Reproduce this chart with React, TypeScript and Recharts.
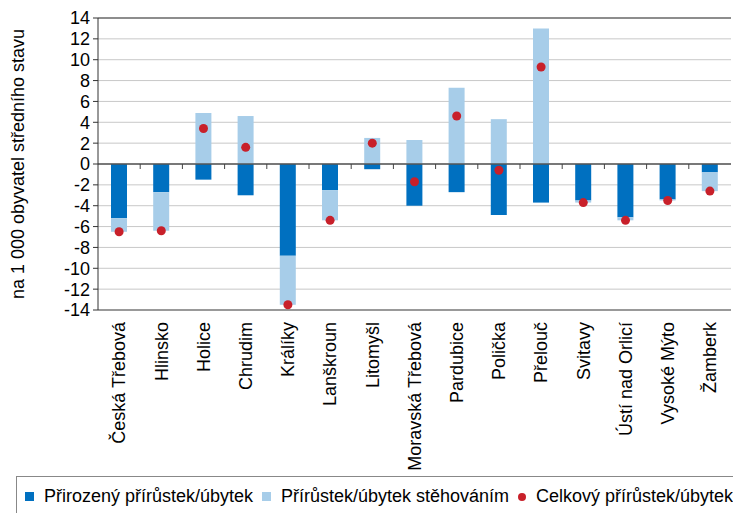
import React from 'react';
import { ComposedChart, Bar, Line, XAxis, YAxis, CartesianGrid, ReferenceLine } from 'recharts';

const towns = [
    'Česká Třebová', 'Hlinsko', 'Holice', 'Chrudim', 'Králíky', 'Lanškroun', 'Litomyšl',
    'Moravská Třebová', 'Pardubice', 'Polička', 'Přelouč', 'Svitavy', 'Ústí nad Orlicí',
    'Vysoké Mýto', 'Žamberk',
];
const natural = [-5.2, -2.7, -1.5, -3.0, -8.8, -2.5, -0.5, -4.0, -2.7, -4.9, -3.7, -3.5, -5.1, -3.4, -0.8];
const migration = [-1.3, -3.7, 4.9, 4.6, -4.7, -2.9, 2.5, 2.3, 7.3, 4.3, 13.0, -0.2, -0.3, -0.1, -1.8];
const total = [-6.5, -6.4, 3.4, 1.6, -13.5, -5.4, 2.0, -1.7, 4.6, -0.6, 9.3, -3.7, -5.4, -3.5, -2.6];
const yTicks = [14, 12, 10, 8, 6, 4, 2, 0, -2, -4, -6, -8, -10, -12, -14];

const data = towns.map((name, i) => ({
    name,
    natural: natural[i],
    migration: migration[i],
    total: total[i],
}));

const FONT = '"Liberation Sans", Arial, sans-serif';
const FS = 18;
const DARK = '#0070c0';
const LIGHT = '#a7cde9';
const RED = '#c8202a';

const TownTick = (props: any) => {
    const { x, payload } = props;
    const y = 322;
    return (
        <text x={x} y={y} transform={`rotate(-90, ${x}, ${y})`} textAnchor="end" dy="0.35em"
            fontSize={FS} fontFamily={FONT} fill="#000">
            {payload.value}
        </text>
    );
};

// zero line with the small category ticks Excel draws on it
const ZeroLine = (props: any) => {
    const { x1, y1, x2 } = props;
    const step = (x2 - x1) / towns.length;
    return (
        <g>
            <line x1={x1} y1={y1} x2={x2} y2={y1} stroke="#555" strokeWidth={1.5} />
            {towns.slice(1).map((_, i) => (
                <line key={i} x1={x1 + step * (i + 1)} y1={y1} x2={x1 + step * (i + 1)} y2={y1 + 5} stroke="#444" />
            ))}
        </g>
    );
};

const AxisTitle = (props: any) => {
    const vb = props.viewBox;
    const cx = vb.x + 18;
    const cy = vb.y + vb.height / 2;
    return (
        <text x={cx} y={cy} transform={`rotate(-90, ${cx}, ${cy})`} textAnchor="middle" dy="0.35em"
            fontSize={FS} fontFamily={FONT} fill="#000">
            na 1 000 obyvatel středního stavu
        </text>
    );
};

const legendText: React.CSSProperties = { position: 'absolute', top: 486, fontSize: FS, fontFamily: FONT, color: '#000', whiteSpace: 'nowrap' };

const App: React.FC = () => {
    return (
        <div style={{ position: 'fixed', left: 0, top: 0, width: 733, height: 513, overflow: 'hidden', background: '#fff' }}>
            <ComposedChart width={733} height={513} data={data} stackOffset="sign"
                margin={{ top: 18, right: 2, left: 0, bottom: 0 }}>
                <CartesianGrid vertical={false} stroke="#c8c8c8" />
                <XAxis dataKey="name" interval={0} tickLine={false} height={203}
                    axisLine={{ stroke: '#808080', strokeWidth: 1.5 }} tick={<TownTick />} />
                <YAxis domain={[-14, 14]} ticks={yTicks} interval={0} width={98} tickSize={5} tickMargin={3}
                    axisLine={{ stroke: '#333' }} tickLine={{ stroke: '#333' }}
                    tick={{ fontSize: FS, fontFamily: FONT, fill: '#000' }}
                    label={{ content: <AxisTitle /> }} />
                <YAxis yAxisId="frame" orientation="right" domain={[-14, 14]} width={0} tick={false} tickLine={false}
                    axisLine={{ stroke: '#707070', strokeWidth: 1.5 }} />
                <ReferenceLine y={14} stroke="#707070" strokeWidth={1.5} />
                <Bar dataKey="natural" stackId="a" fill={DARK} barSize={16} isAnimationActive={false} />
                <Bar dataKey="migration" stackId="a" fill={LIGHT} barSize={16} isAnimationActive={false} />
                <ReferenceLine y={0} shape={<ZeroLine />} />
                <Line dataKey="total" stroke="none" activeDot={false} isAnimationActive={false}
                    dot={{ r: 4.5, fill: RED, stroke: 'none' }} />
            </ComposedChart>
            <div style={{ position: 'absolute', left: 16, top: 476, width: 730, height: 50, borderTop: '1px solid #888', borderLeft: '1px solid #888' }} />
            <div style={{ position: 'absolute', left: 25, top: 492, width: 9, height: 9, background: DARK }} />
            <span style={{ ...legendText, left: 44 }}>Přirozený přírůstek/úbytek</span>
            <div style={{ position: 'absolute', left: 262, top: 492, width: 9, height: 9, background: LIGHT }} />
            <span style={{ ...legendText, left: 281 }}>Přírůstek/úbytek stěhováním</span>
            <div style={{ position: 'absolute', left: 518, top: 493, width: 8, height: 8, borderRadius: 4, background: RED }} />
            <span style={{ ...legendText, left: 536 }}>Celkový přírůstek/úbytek</span>
        </div>
    );
};

export default App;
